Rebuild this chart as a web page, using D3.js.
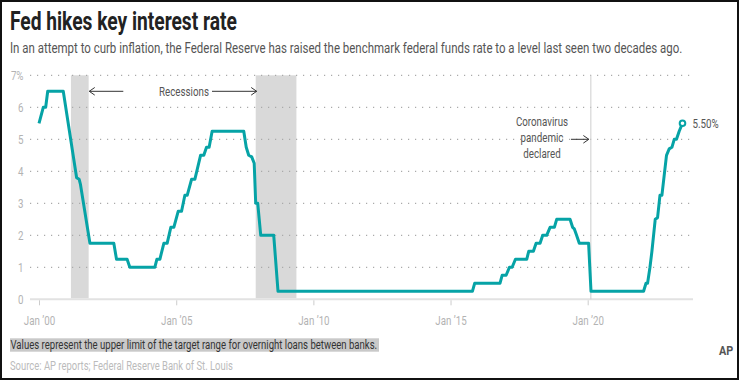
<!DOCTYPE html>
<html><head><meta charset="utf-8">
<script src="https://cdn.jsdelivr.net/npm/d3@7"></script>
<style>
html,body{margin:0;padding:0;background:#fff;}
svg{display:block;font-family:Roboto,"Noto Sans",sans-serif;}
</style></head>
<body>
<svg id="chart" width="739" height="380"></svg>
<script>
// ---- data ----
const rateDates = ["2000-01-01","2000-02-27","2000-03-30","2000-04-26","2000-11-19","2001-05-16","2001-06-19","2001-07-05","2001-11-09","2002-09-23","2002-10-29","2003-03-19","2003-04-24","2004-03-22","2004-04-18","2004-05-28","2004-07-20","2004-09-02","2004-10-21","2004-11-30","2005-01-27","2005-03-13","2005-04-26","2005-05-27","2005-07-24","2005-09-06","2005-11-21","2006-01-03","2006-02-08","2006-03-15","2006-04-24","2007-06-19","2007-07-22","2007-08-24","2007-10-03","2007-11-05","2007-11-25","2007-12-22","2008-01-31","2008-07-22","2008-09-17","2015-10-19","2015-11-18","2016-10-20","2016-11-18","2017-01-10","2017-02-23","2017-03-31","2017-05-14","2017-10-11","2017-11-07","2018-01-08","2018-02-13","2018-04-07","2018-05-12","2018-07-04","2018-08-18","2018-10-14","2018-11-14","2019-05-11","2019-06-14","2019-07-07","2019-08-06","2019-09-11","2020-01-13","2020-02-14","2022-01-14","2022-02-15","2022-03-08","2022-04-09","2022-05-05","2022-06-18","2022-07-19","2022-08-20","2022-09-15","2022-11-15","2022-12-21","2023-01-26","2023-02-26","2023-03-28","2023-05-03","2023-06-16"];
const rateValues = [5.5,6.0,6.0,6.5,6.5,3.8,3.75,3.6,1.75,1.75,1.25,1.25,1.0,1.0,1.25,1.25,1.75,1.75,2.25,2.25,2.75,2.75,3.25,3.25,3.75,3.75,4.5,4.5,4.75,4.75,5.25,5.25,4.75,4.5,4.45,4.25,3.0,3.0,2.0,2.0,0.25,0.25,0.5,0.5,0.75,0.75,1.0,1.0,1.25,1.25,1.5,1.5,1.75,1.75,2.0,2.0,2.25,2.25,2.5,2.5,2.25,2.2,2.0,1.75,1.75,0.25,0.25,0.5,0.5,1.0,1.5,2.5,2.55,3.25,3.25,4.5,4.7,4.75,5.0,5.0,5.25,5.5];
const recessionStarts = ["2001-03-01","2007-11-25"];
const recessionEnds   = ["2001-10-23","2009-05-20"];
const pandemicDate = "2020-02-12";
const xTickDates  = ["2000-01-01","2005-01-01","2010-01-01","2015-01-01","2020-01-01"];
const xTickLabels = ["Jan \u201900","Jan \u201905","Jan \u201910","Jan \u201915","Jan \u201920"];
const yTicks      = [0,1,2,3,4,5,6,7];
const yTickLabels = ["0","1","2","3","4","5","6","7%"];
const endLabel = "5.50%";

const title = "Fed hikes key interest rate";
const subtitle = "In an attempt to curb inflation, the Federal Reserve has raised the benchmark federal funds rate to a level last seen two decades ago.";
const note = "Values represent the upper limit of the target range for overnight loans between banks.";
const source = "Source: AP reports; Federal Reserve Bank of St. Louis";

// ---- setup ----
const parse = d3.utcParse("%Y-%m-%d");
const series = rateDates.map((d,i)=>({date:parse(d), value:rateValues[i]}));
const svg = d3.select("#chart");
const TEAL = "#06a3a6";
const K = 0.75; // horizontal condensing factor

// condense text horizontally by factor k (keeps anchor position)
function squeeze(sel, k){
  sel.each(function(){
    const t = d3.select(this);
    const x0 = +(t.attr("x") || 0);
    t.attr("x", x0 / k).attr("transform", `scale(${k},1)`);
  });
}
// condense text to a target width
function fitWidth(sel, w){
  sel.each(function(){
    const k = w / this.getComputedTextLength();
    squeeze(d3.select(this), k);
  });
}

const x = d3.scaleUtc().domain([parse("2000-01-01"), parse("2020-01-01")]).range([39, 587.7]);
const y = d3.scaleLinear().domain([0,7]).range([299.3, 75.3]);

// border
svg.append("rect").attr("x",1).attr("y",1).attr("width",737).attr("height",378)
  .attr("fill","#fff").attr("stroke","#111").attr("stroke-width",2);

// title & subtitle
svg.append("text").attr("x",10).attr("y",30).text(title)
  .attr("font-size",26).attr("font-weight",700).attr("fill","#222").call(fitWidth, 227);
svg.append("text").attr("x",10).attr("y",53).text(subtitle)
  .attr("font-size",15).attr("fill","#555").call(fitWidth, 673);

// recession bars
svg.append("g").selectAll("rect").data(recessionStarts).join("rect")
  .attr("x", (d)=>x(parse(d)))
  .attr("width", (d,i)=>x(parse(recessionEnds[i]))-x(parse(d)))
  .attr("y", y(7)).attr("height", y(0)-y(7)-1)
  .attr("fill","#d9d9d9");

// grid
svg.append("g").selectAll("line").data(yTicks.filter(v=>v>0)).join("line")
  .attr("x1",30).attr("x2",690).attr("y1",d=>y(d)).attr("y2",d=>y(d))
  .attr("stroke","#aaa").attr("stroke-width",1.2).attr("stroke-dasharray","1.2,5.8");

// baseline
svg.append("line").attr("x1",30).attr("x2",693).attr("y1",y(0)).attr("y2",y(0))
  .attr("stroke","#e2e2e2").attr("stroke-width",2);

// pandemic line
svg.append("line").attr("x1",x(parse(pandemicDate))).attr("x2",x(parse(pandemicDate)))
  .attr("y1",y(7)).attr("y2",y(0)).attr("stroke","#cfcfcf").attr("stroke-width",1);

// y axis
const yAxis = svg.append("g").attr("transform","translate(23.5,0)")
  .call(d3.axisLeft(y).tickValues(yTicks).tickSize(0).tickPadding(0)
    .tickFormat((d,i)=>yTickLabels[i]));
yAxis.select(".domain").remove();
yAxis.selectAll("text").attr("font-size",13).attr("fill","#b3b3b3")
  .attr("font-family","Roboto").attr("x",0).attr("dy","0.36em").call(squeeze, K);

// x axis
const xAxis = svg.append("g").attr("transform",`translate(0,${y(0)})`)
  .call(d3.axisBottom(x).tickValues(xTickDates.map(parse)).tickSize(6).tickPadding(10)
    .tickFormat((d,i)=>xTickLabels[i]));
xAxis.select(".domain").remove();
xAxis.selectAll("line").attr("stroke","#ccc").attr("y1",1);
xAxis.selectAll("text").attr("font-size",13).attr("fill","#b3b3b3")
  .attr("font-family","Roboto").call(squeeze, K);

// rate line
const line = d3.line().x(d=>x(d.date)).y(d=>y(d.value));
svg.append("path").datum(series).attr("d",line).attr("fill","none")
  .attr("stroke",TEAL).attr("stroke-width",3).attr("stroke-linejoin","round");
const last = series[series.length-1];
svg.append("circle").attr("cx",x(last.date)).attr("cy",y(last.value)).attr("r",2.8)
  .attr("fill","#fff").attr("stroke",TEAL).attr("stroke-width",2);
svg.append("text").attr("x",x(last.date)+10).attr("y",y(last.value)).attr("dy","0.36em")
  .text(endLabel).attr("font-size",13).attr("fill","#555").call(squeeze, K);

// annotations
function arrow(x1, x2, yy){
  const dir = x2 > x1 ? 1 : -1;
  svg.append("line").attr("x1",x1).attr("x2",x2).attr("y1",yy).attr("y2",yy)
    .attr("stroke","#333").attr("stroke-width",1);
  svg.append("path").attr("d",`M${x2-dir*5.5},${yy-3.8}L${x2},${yy}L${x2-dir*5.5},${yy+3.8}`)
    .attr("fill","none").attr("stroke","#333").attr("stroke-width",1);
}
const recY = y(6.5);
svg.append("text").attr("x",184).attr("y",recY).attr("dy","0.36em").attr("text-anchor","middle")
  .text("Recessions").attr("font-size",13).attr("fill","#555").call(squeeze, K);
arrow(123.3, x(parse(recessionEnds[0]))+0.6, recY);
arrow(212, x(parse(recessionStarts[1]))+1, recY);

const covLines = ["Coronavirus","pandemic","declared"];
svg.append("g").selectAll("text").data(covLines).join("text")
  .attr("x",542).attr("y",(d,i)=>126.3+i*15.8).attr("text-anchor","middle")
  .text(d=>d).attr("font-size",13).attr("fill","#555").call(squeeze, K);
arrow(571, x(parse(pandemicDate))-2, y(5));

// note & source
svg.append("rect").attr("x",10).attr("y",338.3).attr("width",369).attr("height",13.4).attr("fill","#c9c9c9");
svg.append("text").attr("x",10.5).attr("y",349.5).text(note)
  .attr("font-size",13).attr("fill","#333").call(fitWidth, 367);
svg.append("text").attr("x",10).attr("y",370.5).text(source)
  .attr("font-size",13).attr("fill","#bbb").call(fitWidth, 223);

// AP mark
svg.append("text").attr("x",726).attr("y",355).attr("text-anchor","middle").text("AP")
  .attr("font-size",12).attr("font-weight",700).attr("fill","#555").call(squeeze, 0.9);
</script>
</body></html>
